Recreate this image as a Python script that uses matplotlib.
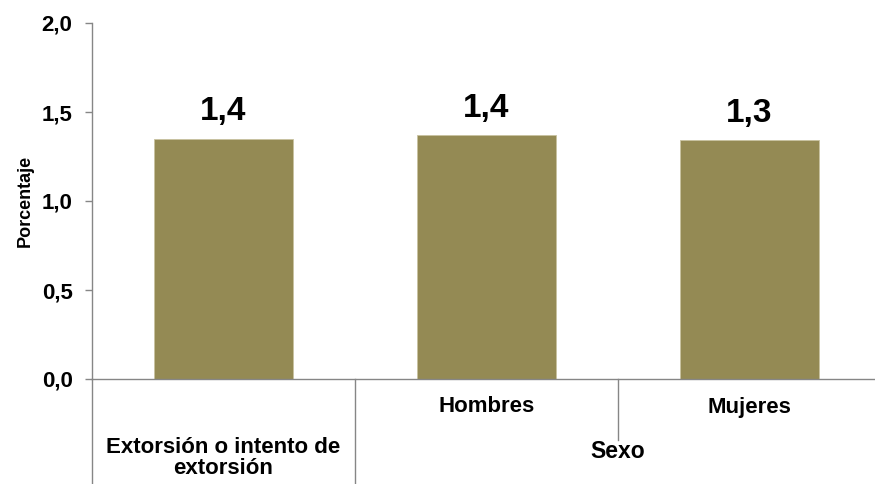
import numpy as np
import matplotlib.pyplot as plt
import matplotlib.transforms as mtransforms

# datos
categorias = ["Extorsión o intento de\nextorsión", "Hombres", "Mujeres"]
grupos = ["Sexo"]
valores = [1.35, 1.37, 1.34]
etiquetas = ["1,4", "1,4", "1,3"]
yticks = [0.0, 0.5, 1.0, 1.5, 2.0]
ytick_labels = ["0,0", "0,5", "1,0", "1,5", "2,0"]

plt.rcParams['font.family'] = ['Liberation Sans', 'DejaVu Sans']

color_barra = '#948A54'
gris = '#868686'

fig = plt.figure(figsize=(8.75, 4.84), dpi=100)
ax = fig.add_axes([92/875, 1-379/484, 789/875, 356/484])

x = np.arange(len(valores))
ax.bar(x, valores, width=0.53, color=color_barra, edgecolor='#c8c2a0', linewidth=0.6, zorder=2)

for xi, v, lab in zip(x, valores, etiquetas):
    ax.text(xi, v + 0.065, lab, ha='center', va='bottom', fontsize=24, fontweight='bold')

ax.set_xlim(-0.5, 2.5)
ax.set_ylim(0, 2.0)
ax.set_yticks(yticks)
ax.set_yticklabels(ytick_labels, fontsize=16, fontweight='bold')
ax.set_xticks([])
ax.tick_params(axis='y', length=5, color=gris, width=1, pad=9)
ax.set_ylabel("Porcentaje", fontsize=13, fontweight='bold', labelpad=6)

for s in ['top', 'right']:
    ax.spines[s].set_visible(False)
for s in ['left', 'bottom']:
    ax.spines[s].set_color(gris)
    ax.spines[s].set_linewidth(1)

# eje de categorias en dos niveles
tr = mtransforms.blended_transform_factory(ax.transData, ax.transAxes)
fondo = (379 - 484) / 356
ax.plot([-0.5, -0.5], [0, fondo], color=gris, lw=1, transform=tr, clip_on=False)
ax.plot([0.5, 0.5], [0, fondo], color=gris, lw=1, transform=tr, clip_on=False)
ax.plot([1.5, 1.5], [0, (379 - 440) / 356], color=gris, lw=1, transform=tr, clip_on=False)

y1 = (379 - 407) / 356
y2 = (379 - 437) / 356
ax.text(1, y1, categorias[1], ha='center', va='center', fontsize=16, fontweight='bold', transform=tr)
ax.text(2, y1, categorias[2], ha='center', va='center', fontsize=16, fontweight='bold', transform=tr)
ax.text(0, y2, categorias[0], ha='center', va='top', fontsize=16, fontweight='bold',
        transform=tr, linespacing=1.0)
ax.text(1.5, y2 - 0.008, grupos[0], ha='center', va='top', fontsize=16.5, fontweight='bold', transform=tr)

fig.savefig('out.png', dpi=100)
